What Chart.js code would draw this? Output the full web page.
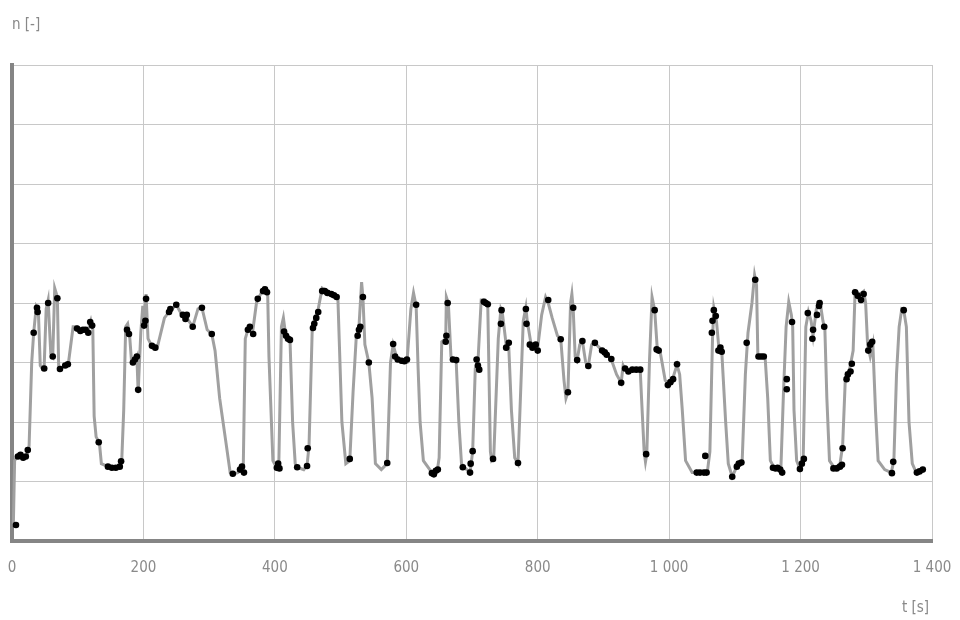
<!DOCTYPE html>
<html>
<head>
<meta charset="utf-8">
<script src="https://cdn.jsdelivr.net/npm/chart.js@4.4.1/dist/chart.umd.min.js"></script>
<style>
  body { margin: 0; background: #fff; }
  #wrap { position: relative; width: 960px; height: 620px; }
  .lbl { position: absolute; font-family: "Liberation Sans Narrow", "DejaVu Sans Condensed", Roboto, sans-serif; font-size: 15px; color: #888; }
</style>
</head>
<body>
<div id="wrap">
  <canvas id="chart" width="960" height="620"></canvas>
  <div class="lbl" style="left:12px; top:15px;">n [-]</div>
  <div class="lbl" style="left:902px; top:598px;">t [s]</div>
</div>
<script>
// Trace (grey line)
const lineT = [2, 4, 9, 16, 23, 26, 28, 30, 33, 37, 40, 43, 46, 49, 52, 55, 59, 62, 65, 69, 71, 74, 81, 86, 93, 99, 108, 116, 120, 123,
  125, 128, 133, 136, 146, 156, 164, 167, 170, 173, 176, 179, 182, 186, 190, 192, 196, 199, 201, 204, 207, 213, 221, 232, 239, 250, 260, 266, 275, 283,
  289, 297, 304, 309, 316, 325, 332, 336, 344, 348, 352, 355, 359, 366, 372, 376, 383, 389, 391, 397, 403, 406, 410, 413, 416, 423, 427, 431, 434, 444,
  449, 452, 457, 461, 466, 472, 480, 490, 496, 502, 508, 514, 519, 524, 528, 532, 534, 537, 543, 548, 553, 562, 571, 576, 580, 585, 592, 601, 607, 611,
  615, 618, 621, 626, 639, 647, 650, 654, 660, 661, 664, 668, 676, 680, 684, 690, 697, 701, 705, 709, 714, 720, 724, 728, 730, 733, 740, 744, 746, 752,
  756, 760, 765, 770, 778, 782, 784, 790, 800, 806, 812, 816, 822, 830, 835, 840, 843, 846, 850, 852, 854, 857, 860, 864, 868, 873, 877, 882, 887, 898,
  905, 912, 920, 927, 930, 933, 956, 958, 962, 964, 966, 970, 974, 978, 982, 986, 994, 1000, 1006, 1012, 1016, 1020, 1025, 1035, 1058, 1062, 1066, 1068, 1072, 1076,
  1080, 1086, 1090, 1096, 1103, 1111, 1116, 1120, 1126, 1130, 1133, 1135, 1146, 1150, 1154, 1160, 1164, 1170, 1174, 1178, 1182, 1186, 1188, 1190, 1194, 1199, 1204, 1208, 1212, 1216,
  1219, 1224, 1230, 1234, 1237, 1240, 1244, 1252, 1260, 1264, 1268, 1274, 1280, 1283, 1290, 1296, 1299, 1302, 1306, 1310, 1314, 1318, 1328, 1338, 1342, 1346, 1350, 1354, 1357, 1361,
  1365, 1370, 1376, 1386];
const lineN = [0.25, 1.35, 1.45, 1.4, 1.45, 1.6, 2.3, 3.0, 3.5, 3.95, 3.9, 2.95, 2.9, 2.95, 3.9, 4.05, 3.15, 3.1, 4.25, 4.1, 2.95, 2.9, 2.95, 3.0, 3.6, 3.6, 3.55, 3.55, 3.7, 3.55,
  2.1, 1.75, 1.65, 1.3, 1.25, 1.22, 1.25, 1.35, 2.2, 3.6, 3.65, 3.45, 3.0, 3.0, 3.1, 2.5, 3.5, 3.95, 3.65, 4.15, 3.4, 3.27, 3.25, 3.75, 3.85, 3.97, 3.77, 3.75, 3.6, 3.9,
  3.92, 3.55, 3.48, 3.2, 2.4, 1.7, 1.15, 1.12, 1.15, 1.25, 1.3, 3.4, 3.55, 3.5, 4.0, 4.1, 4.25, 4.2, 3.1, 1.35, 1.22, 1.28, 3.6, 3.75, 3.5, 3.4, 2.0, 1.3, 1.24, 1.2,
  1.27, 1.6, 3.6, 3.75, 3.9, 4.25, 4.2, 4.15, 4.05, 2.0, 1.3, 1.35, 2.5, 3.45, 3.6, 4.35, 4.1, 3.3, 3.0, 2.4, 1.3, 1.2, 1.3, 3.0, 3.3, 3.1, 3.0, 3.0, 3.9, 4.17,
  3.95, 2.9, 2.0, 1.35, 1.15, 1.17, 1.4, 3.35, 3.4, 4.1, 4.0, 3.1, 3.0, 2.0, 1.3, 1.22, 1.15, 1.5, 2.9, 3.0, 4.05, 4.05, 3.95, 1.5, 1.35, 1.38, 3.4, 3.9, 3.85, 3.3,
  3.25, 2.2, 1.4, 1.3, 3.7, 3.93, 3.7, 3.3, 3.25, 3.8, 4.1, 4.0, 3.75, 3.45, 3.4, 2.7, 2.4, 2.5, 4.0, 4.15, 3.9, 3.1, 3.04, 3.3, 3.36, 3.0, 2.94, 3.3, 3.33, 3.2,
  3.15, 3.05, 2.8, 2.66, 2.95, 2.88, 2.88, 2.4, 1.5, 1.33, 1.46, 3.0, 4.1, 3.88, 3.22, 3.2, 2.7, 2.65, 2.75, 2.96, 2.8, 2.2, 1.35, 1.15, 1.15, 1.5, 3.4, 3.92, 3.7, 3.2,
  3.2, 2.0, 1.3, 1.08, 1.25, 1.3, 2.8, 3.5, 4.0, 4.47, 4.3, 3.12, 3.1, 2.4, 1.35, 1.23, 1.22, 1.2, 2.5, 3.6, 4.02, 3.8, 3.6, 2.2, 1.35, 1.21, 1.4, 3.6, 3.85, 3.7,
  3.45, 3.9, 4.0, 3.7, 3.55, 2.4, 1.35, 1.22, 1.3, 1.6, 2.7, 2.85, 3.2, 4.2, 4.15, 4.2, 4.0, 3.3, 3.1, 3.3, 2.2, 1.35, 1.2, 1.15, 1.35, 2.8, 3.6, 3.9, 3.88, 3.6,
  2.0, 1.3, 1.15, 1.2];

// Measured points (black dots)
const dotT = [6, 9, 13, 17, 21, 24, 33, 38, 39, 49, 55, 62, 69, 73, 81, 85, 99, 104, 108, 112, 116, 119, 122, 132, 146, 152, 158, 164, 166, 175,
  178, 184, 187, 190, 192, 201, 203, 204, 213, 218, 239, 241, 250, 260, 264, 266, 275, 289, 304, 336, 347, 350, 353, 359, 362, 367, 374, 382, 385, 388,
  403, 405, 407, 414, 417, 420, 423, 434, 449, 450, 458, 460, 463, 466, 472, 476, 480, 486, 490, 494, 514, 526, 528, 530, 534, 543, 571, 580, 583, 587,
  593, 597, 601, 615, 639, 642, 645, 648, 660, 661, 663, 671, 676, 686, 697, 698, 701, 707, 709, 711, 718, 721, 724, 732, 744, 745, 752, 756, 770, 782,
  783, 788, 792, 797, 800, 816, 835, 846, 854, 860, 868, 877, 887, 898, 902, 905, 912, 927, 933, 938, 944, 950, 956, 965, 978, 981, 984, 998, 1002, 1006,
  1012, 1042, 1047, 1053, 1057, 1055, 1065, 1066, 1068, 1071, 1075, 1078, 1080, 1096, 1103, 1106, 1110, 1118, 1131, 1136, 1140, 1144, 1158, 1162, 1165, 1169, 1172, 1179, 1179, 1187,
  1199, 1202, 1205, 1211, 1219, 1218, 1225, 1228, 1229, 1236, 1250, 1255, 1260, 1263, 1264, 1270, 1272, 1276, 1278, 1283, 1287, 1292, 1296, 1303, 1306, 1309, 1339, 1341, 1357, 1377,
  1381, 1386];
const dotN = [0.27, 1.42, 1.45, 1.4, 1.42, 1.53, 3.5, 3.92, 3.85, 2.9, 4.0, 3.1, 4.08, 2.89, 2.95, 2.97, 3.57, 3.53, 3.55, 3.55, 3.5, 3.68, 3.62, 1.66, 1.25, 1.23, 1.23, 1.25, 1.34, 3.55,
  3.48, 3.0, 3.05, 3.1, 2.54, 3.62, 3.7, 4.07, 3.28, 3.25, 3.85, 3.9, 3.97, 3.8, 3.73, 3.8, 3.6, 3.92, 3.48, 1.13, 1.2, 1.25, 1.15, 3.55, 3.6, 3.48, 4.07, 4.2, 4.23, 4.18,
  1.23, 1.3, 1.22, 3.52, 3.45, 3.4, 3.38, 1.24, 1.26, 1.56, 3.58, 3.65, 3.75, 3.85, 4.2, 4.2, 4.17, 4.15, 4.13, 4.1, 1.38, 3.45, 3.55, 3.6, 4.1, 3.0, 1.31, 3.31, 3.1, 3.05,
  3.03, 3.02, 3.05, 3.97, 1.14, 1.12, 1.18, 1.2, 3.35, 3.45, 4.0, 3.05, 3.04, 1.24, 1.15, 1.3, 1.51, 3.05, 2.95, 2.88, 4.02, 4.0, 3.98, 1.38, 3.65, 3.88, 3.25, 3.33, 1.31, 3.9,
  3.65, 3.3, 3.25, 3.3, 3.2, 4.05, 3.39, 2.5, 3.92, 3.04, 3.36, 2.94, 3.33, 3.2, 3.17, 3.13, 3.06, 2.66, 2.9, 2.85, 2.88, 2.88, 2.88, 1.46, 3.88, 3.22, 3.2, 2.62, 2.67, 2.72,
  2.97, 1.15, 1.15, 1.15, 1.15, 1.43, 3.5, 3.7, 3.88, 3.78, 3.2, 3.25, 3.18, 1.08, 1.25, 1.3, 1.32, 3.33, 4.39, 3.1, 3.1, 3.1, 1.23, 1.22, 1.23, 1.2, 1.15, 2.72, 2.55, 3.68,
  1.21, 1.3, 1.38, 3.83, 3.55, 3.4, 3.8, 3.95, 4.0, 3.6, 1.22, 1.22, 1.25, 1.28, 1.56, 2.72, 2.8, 2.85, 2.98, 4.18, 4.12, 4.05, 4.15, 3.2, 3.3, 3.35, 1.14, 1.33, 3.88, 1.15,
  1.17, 1.2];

const xTicks = [0, 200, 400, 600, 800, 1000, 1200, 1400];

function fmt(v) {
    return String(v).replace(/\B(?=(\d{3})+(?!\d))/g, ' ');
}

const ctx = document.getElementById('chart').getContext('2d');
new Chart(ctx, {
    type: 'scatter',
    data: {
        datasets: [
            {
                label: 'body',
                data: dotT.map((t, i) => ({ x: t, y: dotN[i] })),
                pointRadius: 3.3,
                pointBackgroundColor: '#000',
                pointBorderWidth: 0,
                showLine: false,
                order: 0
            },
            {
                label: 'průběh',
                data: lineT.map((t, i) => ({ x: t, y: lineN[i] })),
                showLine: true,
                borderColor: '#a0a0a0',
                borderWidth: 3,
                pointRadius: 0,
                tension: 0,
                order: 1
            }
        ]
    },
    options: {
        responsive: false,
        animation: false,
        layout: { padding: { left: 12, top: 65, right: 28, bottom: 0 } },
        plugins: { legend: { display: false }, tooltip: { enabled: false } },
        scales: {
            x: {
                type: 'linear',
                min: 0,
                max: 1400,
                afterBuildTicks: s => { s.ticks = xTicks.map(v => ({ value: v })); },
                afterFit: s => { s.height = 79; s.paddingLeft = 0; s.paddingRight = 0; },
                grid: { color: '#c8c8c8', lineWidth: 1, drawTicks: false },
                border: { display: true, color: '#858585', width: 4 },
                ticks: {
                    padding: 18,
                    color: '#8a8a8a',
                    font: { family: '"Liberation Sans Narrow", "DejaVu Sans Condensed", Roboto, sans-serif', size: 15 },
                    callback: v => fmt(v)
                }
            },
            y: {
                min: 0,
                max: 8,
                afterFit: s => { s.width = 0; s.paddingTop = 0; s.paddingBottom = 0; },
                grid: { color: '#c8c8c8', lineWidth: 1, drawTicks: false },
                border: { display: true, color: '#858585', width: 4 },
                ticks: { display: false, stepSize: 1 }
            }
        }
    }
});
</script>
</body>
</html>
